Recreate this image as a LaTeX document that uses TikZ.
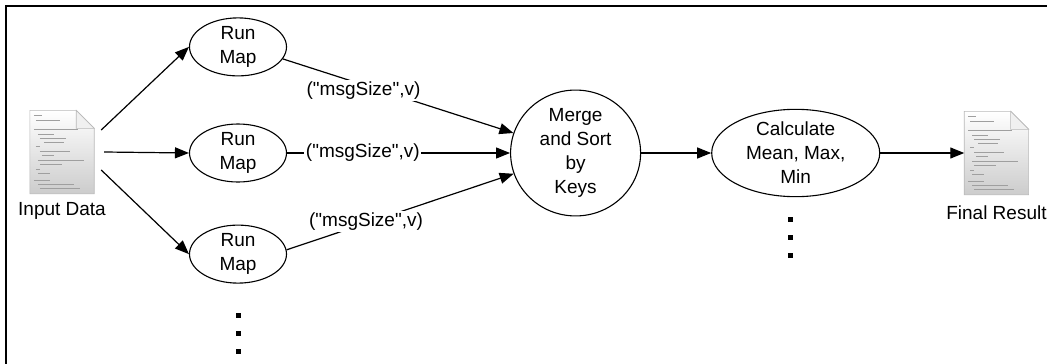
\documentclass[tikz,border=0pt]{standalone}
\usepackage{fontspec}
\setmainfont{Liberation Sans}
\usetikzlibrary{arrows.meta, positioning, shapes.geometric}

\begin{document}
\begin{tikzpicture}[x=1pt, y=-1pt, font=\fontsize{19}{24}\selectfont,
    stage/.style={draw, ellipse, line width=1.1pt, align=center, inner sep=0pt},
    mapbox/.style={stage, minimum width=97pt, minimum height=56pt},
    arr/.style={-{Triangle[length=14pt,width=11pt]}, line width=1.2pt},
    docfile/.style={minimum width=64pt, minimum height=83pt, inner sep=0pt},
    kv/.style={fill=white, inner sep=1.5pt}]
    \useasboundingbox (0,0) rectangle (1047,364);
    \draw[line width=2pt] (6,364) -- (6,5.5) -- (1047,5.5);

    % Nodes
    \node (input) [docfile] at (62,152) {};
    \node (inputlbl) [below=9pt of input, inner sep=0pt] {Input Data};
    \node (run2) [mapbox] at (238,153) {Run\\Map};
    \node (run1) [mapbox, above=47pt of run2] {Run\\Map};
    \node (run3) [mapbox, below=42pt of run2] {Run\\Map};
    \node (merge) [stage, minimum width=130pt, minimum height=112pt, right=223pt of run2] {Merge\\and Sort\\by\\Keys};
    \node (calc) [stage, minimum width=168pt, minimum height=80pt, right=70pt of merge] {Calculate\\Mean, Max,\\Min};
    \node (result) [docfile, right=84pt of calc] {};
    \node (resultlbl) [below=11pt of result, inner sep=0pt] {Final Result};

    % Document icons
    \foreach \doc in {input, result} {
      \shade[top color=white, bottom color=gray!40, draw=gray!55, line width=0.6pt]
        (\doc.south west) -- (\doc.north west) -- ([xshift=-18pt]\doc.north east)
        -- ([yshift=-18pt]\doc.north east) -- (\doc.south east) -- cycle;
      \fill[gray!12, draw=gray!55, line width=0.6pt] ([xshift=-18pt]\doc.north east)
        -- ([xshift=-18pt,yshift=-18pt]\doc.north east) -- ([yshift=-18pt]\doc.north east) -- cycle;
      \foreach \dy/\dx/\len in {5/4/8, 10/6/24, 19/4/44, 24/8/16, 28/10/26, 32/14/20,
          36/6/4, 41/10/30, 45/12/12, 50/8/46, 54/10/22, 59/6/4, 63/8/12,
          70/4/16, 74/8/36, 78/10/40} {
        \draw[gray!75, line width=0.8pt] ([xshift=\dx pt, yshift=-\dy pt]\doc.north west) -- ++(\len,0);
      }
    }

    % Dots
    \foreach \y in {313,331,349} \fill (235.5,\y) rectangle ++(5,5);
    \foreach \y in {217,235,253} \fill (787.5,\y) rectangle ++(5,5);

    % Arrows
    \draw[arr] ([xshift=7pt,yshift=22pt]input.east) -- (run1.west);
    \draw[arr] ([xshift=10pt]input.east) -- (run2.west);
    \draw[arr] ([xshift=7pt,yshift=-18pt]input.east) -- (run3.west);
    \draw[arr] (run1.-15) -- node (kv1) [kv, pos=0.35, yshift=-6pt] {(\textquotedbl msgSize\textquotedbl,v)} (merge);
    \draw[arr] (run2.east) -- node (kv2) [kv, pos=0.34] {(\textquotedbl msgSize\textquotedbl,v)} (merge);
    \draw[arr] (run3.5) -- node (kv3) [kv, pos=0.35, yshift=2pt] {(\textquotedbl msgSize\textquotedbl,v)} (merge);
    \draw[arr] (merge) -- (calc);
    \draw[arr] (calc) -- (result);
\end{tikzpicture}
\end{document}
